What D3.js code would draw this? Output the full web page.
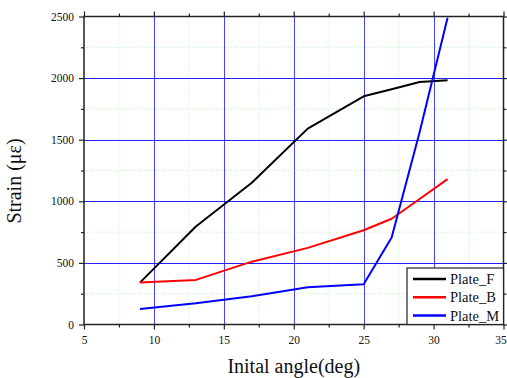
<!DOCTYPE html>
<html><head><meta charset="utf-8">
<script src="https://cdn.jsdelivr.net/npm/d3@7"></script>
<style>body{margin:0;background:#fff}svg{display:block}</style>
</head><body>
<svg id="c" width="507" height="378"></svg>
<script>
const angles = [9, 13, 17, 21, 25, 27, 29, 31];
const plateF = [340, 795, 1150, 1590, 1852, 1910, 1969, 1982];
const plateB = [340, 362, 510, 622, 765, 858, 1019, 1180];
const plateM = [126, 172, 230, 302, 327, 706, 1560, 2490];
const seriesNames = ["Plate_F", "Plate_B", "Plate_M"];
const seriesColors = ["#000000", "#ff0000", "#0000ff"];
const xTicks = [5, 10, 15, 20, 25, 30, 35];
const yTicks = [0, 500, 1000, 1500, 2000, 2500];
const xMinor = [7.5, 12.5, 17.5, 22.5, 27.5, 32.5];
const yMinor = [250, 750, 1250, 1750, 2250];

(function(){
const svg = d3.select("#c");
const L = 84, R = 503.5, T = 16.5, B = 324.5;
const x = d3.scaleLinear().domain([5, 35]).range([L, R]);
const y = d3.scaleLinear().domain([0, 2500]).range([B, T]);
const font = "'Liberation Serif', 'Times New Roman', serif";
const fmt = d3.format("d");

// minor grid
const g = svg.append("g");
g.selectAll(".mx").data(xMinor).join("line")
  .attr("x1", d => x(d)).attr("x2", d => x(d)).attr("y1", T).attr("y2", B)
  .attr("stroke", "#b8f5b8").attr("stroke-width", 1).attr("stroke-dasharray", "1,2");
g.selectAll(".my").data(yMinor).join("line")
  .attr("y1", d => y(d)).attr("y2", d => y(d)).attr("x1", L).attr("x2", R)
  .attr("stroke", "#b8f5b8").attr("stroke-width", 1).attr("stroke-dasharray", "1,2");
// major grid
g.selectAll(".gx").data(xTicks.slice(1, -1)).join("line")
  .attr("x1", d => Math.round(x(d)) + 0.5).attr("x2", d => Math.round(x(d)) + 0.5).attr("y1", T).attr("y2", B)
  .attr("stroke", "#4444ff").attr("stroke-width", 1);
g.selectAll(".gy").data(yTicks.slice(1, -1)).join("line")
  .attr("y1", d => Math.round(y(d)) + 0.5).attr("y2", d => Math.round(y(d)) + 0.5).attr("x1", L).attr("x2", R)
  .attr("stroke", "#2222ff").attr("stroke-width", 1);

// lines
const allSeries = [plateF, plateB, plateM];
const line = d3.line().x((d, i) => x(angles[i])).y(d => y(d));
allSeries.forEach((s, k) => {
  svg.append("path").datum(s).attr("d", line)
    .attr("fill", "none").attr("stroke", seriesColors[k]).attr("stroke-width", 2)
    .attr("stroke-linejoin", "round");
});

// axes
const axCol = "#222";
const axes = [];
const bx = svg.append("g").attr("transform", `translate(0,${B})`)
  .call(d3.axisBottom(x).tickValues(xTicks).tickSize(5).tickPadding(6).tickFormat(fmt));
axes.push(bx);
axes.push(svg.append("g").attr("transform", `translate(0,${T})`)
  .call(d3.axisTop(x).tickValues(xTicks).tickSize(5).tickFormat("")));
axes.push(svg.append("g").attr("transform", `translate(${L},0)`)
  .call(d3.axisLeft(y).tickValues(yTicks).tickSize(5).tickPadding(5).tickFormat(fmt)));
axes.push(svg.append("g").attr("transform", `translate(${R},0)`)
  .call(d3.axisRight(y).tickValues(yTicks).tickSize(5).tickFormat("")));
axes.push(svg.append("g").attr("transform", `translate(0,${B})`).call(d3.axisBottom(x).tickValues(xMinor).tickSize(3).tickFormat("")));
axes.push(svg.append("g").attr("transform", `translate(0,${T})`).call(d3.axisTop(x).tickValues(xMinor).tickSize(3).tickFormat("")));
axes.push(svg.append("g").attr("transform", `translate(${L},0)`).call(d3.axisLeft(y).tickValues(yMinor).tickSize(3).tickFormat("")));
axes.push(svg.append("g").attr("transform", `translate(${R},0)`).call(d3.axisRight(y).tickValues(yMinor).tickSize(3).tickFormat("")));
axes.forEach(a => a.attr("font-family", font).attr("font-size", 11.5));
svg.selectAll(".tick line").attr("stroke", axCol).attr("stroke-width", 1.2);
svg.selectAll(".tick text").attr("fill", "#111").style("font-family", font);
bx.selectAll(".tick text").filter(d => d === 35).attr("dx", -3);
svg.selectAll(".domain").remove();
svg.append("rect").attr("x", L).attr("y", T).attr("width", R - L).attr("height", B - T)
  .attr("fill", "none").attr("stroke", axCol).attr("stroke-width", 1.5);

// legend
const lg = svg.append("g");
const lx = 407, ly = 268;
lg.append("rect").attr("x", lx).attr("y", ly).attr("width", R - lx).attr("height", B - ly)
  .attr("fill", "#fff").attr("stroke", axCol).attr("stroke-width", 1.2);
seriesNames.forEach((n, i) => {
  const yy = ly + 11 + i * 18.3;
  lg.append("line").attr("x1", lx + 6).attr("x2", lx + 39).attr("y1", yy).attr("y2", yy)
    .attr("stroke", seriesColors[i]).attr("stroke-width", 2.5);
  lg.append("text").attr("x", lx + 43).attr("y", yy + 5).text(n)
    .style("font-family", font).attr("font-size", 14.5).attr("fill", "#111");
});

// titles
svg.append("text").attr("x", (L + R) / 2).attr("y", 373).attr("text-anchor", "middle")
  .style("font-family", font).attr("font-size", 20).attr("fill", "#111").text("Inital angle(deg)");
svg.append("text").attr("transform", "translate(21,181) rotate(-90)").attr("text-anchor", "middle")
  .style("font-family", font).attr("font-size", 20).attr("fill", "#111").text("Strain (με)");
})();
</script>
</body></html>
